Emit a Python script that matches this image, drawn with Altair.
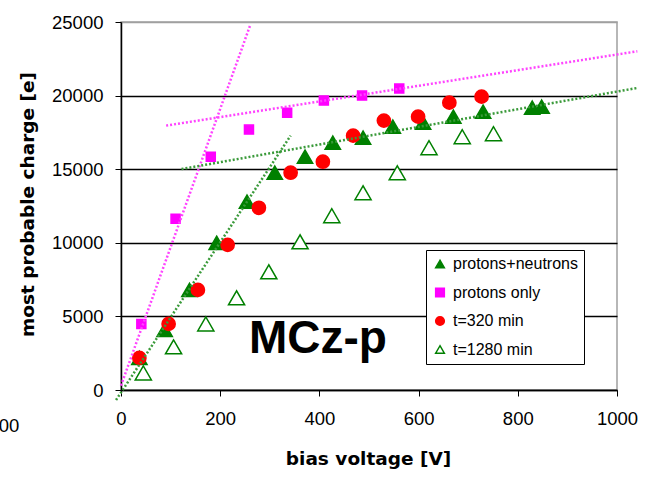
import altair as alt
import pandas as pd

# ---- data ----
series_order = ["protons+neutrons", "protons only", "t=320 min", "t=1280 min"]

pn_v = [37, 88, 138, 193, 254, 310, 371, 427, 488, 548, 609, 670, 730, 829, 848]
pn_q = [2180, 4080, 6800, 10000, 12790, 14760, 15850, 16800, 17140, 17890, 18160, 18570, 18910, 19180, 19250]

po_v = [41, 110, 181, 258, 335, 409, 486, 561]
po_q = [4490, 11630, 15850, 17690, 18840, 19660, 20000, 20480]

t320_v = [37, 96, 155, 215, 278, 342, 407, 468, 530, 599, 662, 727]
t320_q = [2180, 4490, 6800, 9860, 12380, 14760, 15510, 17280, 18300, 18570, 19520, 19930]

t1280_v = [45, 106, 171, 233, 298, 361, 425, 488, 557, 621, 688, 751]
t1280_q = [1160, 2930, 4490, 6260, 8030, 10070, 11840, 13400, 14760, 16460, 17210, 17410]

# trend lines (end points)
mag_steep_v = [0, 261]
mag_steep_q = [300, 24830]
mag_flat_v = [91, 1041]
mag_flat_q = [17960, 23010]
grn_steep_v = [-10, 342]
grn_steep_q = [-680, 17280]
grn_flat_v = [122, 1041]
grn_flat_q = [15010, 20520]

x_ticks = [0, 200, 400, 600, 800, 1000]
y_ticks = [0, 5000, 10000, 15000, 20000, 25000]

ann_x = [258]
ann_y = [2520]
ann_text = ["MCz-p"]

frag_x = [-205]
frag_y = [-2880]
frag_text = ["00"]

# ---- tables ----
series_data = [(pn_v, pn_q), (po_v, po_q), (t320_v, t320_q), (t1280_v, t1280_q)]
series_frames = [
    pd.DataFrame({"series": name, "V": v, "Q": q})
    for name, (v, q) in zip(series_order, series_data)
]

mag_lines = pd.concat([
    pd.DataFrame({"line": "steep", "V": mag_steep_v, "Q": mag_steep_q}),
    pd.DataFrame({"line": "flat", "V": mag_flat_v, "Q": mag_flat_q}),
], ignore_index=True)
grn_lines = pd.concat([
    pd.DataFrame({"line": "steep", "V": grn_steep_v, "Q": grn_steep_q}),
    pd.DataFrame({"line": "flat", "V": grn_flat_v, "Q": grn_flat_q}),
], ignore_index=True)

ann = pd.DataFrame({"V": ann_x, "Q": ann_y, "t": ann_text})
frag = pd.DataFrame({"V": frag_x, "Q": frag_y, "t": frag_text})

LAB_FONT = "Liberation Sans"
TITLE_FONT = "DejaVu Sans"

fill_range = ["#008000", "#ff00ff", "#ff0000", "white"]
stroke_range = ["#008000", "#ff00ff", "#ff0000", "#008000"]
shape_range = ["triangle-up", "square", "circle", "triangle-up"]
marker_sizes = [235, 81, 175, 260]

x_enc = alt.X(
    "V:Q",
    scale=alt.Scale(domain=[0, 1000], nice=False, zero=False),
    axis=alt.Axis(
        values=x_ticks, grid=False, format="d",
        tickSize=6, tickColor="black", domainColor="black", domainWidth=1.5,
        labelFont=LAB_FONT, labelFontSize=18.5, labelColor="black", labelPadding=13,
        labelFlush=False,
        title="bias voltage [V]", titleFont=TITLE_FONT, titleFontWeight="bold",
        titleFontSize=18.5, titleColor="black", titleX=247, titleY=74,
        titleAlign="center", titleBaseline="alphabetic",
    ),
)
y_enc = alt.Y(
    "Q:Q",
    scale=alt.Scale(domain=[0, 25000], nice=False, zero=False),
    axis=alt.Axis(
        values=y_ticks, grid=True, format="d",
        gridColor=alt.condition("datum.value == 25000", alt.value("#a0a0a0"), alt.value("black")),
        gridWidth=1.3, gridOpacity=1,
        tickSize=6, tickColor="black", domainColor="black", domainWidth=1.5,
        labelFont=LAB_FONT, labelFontSize=18.5, labelColor="black", labelPadding=12,
        labelFlush=False,
        title="most probable charge [e]", titleFont=TITLE_FONT, titleFontWeight="bold",
        titleFontSize=18.5, titleColor="black", titleAngle=270,
        titleX=-88, titleY=182, titleAlign="center", titleBaseline="alphabetic",
    ),
)

leg = alt.Legend(title=None)
point_layers = []
for frame, sz in zip(series_frames, marker_sizes):
    point_layers.append(
        alt.Chart(frame).mark_point(filled=True, opacity=1, strokeWidth=1.5, size=sz).encode(
            x=x_enc,
            y=y_enc,
            fill=alt.Fill("series:N", scale=alt.Scale(domain=series_order, range=fill_range), legend=leg),
            stroke=alt.Stroke("series:N", scale=alt.Scale(domain=series_order, range=stroke_range), legend=leg),
            shape=alt.Shape("series:N", scale=alt.Scale(domain=series_order, range=shape_range), legend=leg),
        )
    )

mag = alt.Chart(mag_lines).mark_line(color="#ff44ff", strokeWidth=2.5, strokeDash=[2, 2]).encode(
    x="V:Q", y="Q:Q", detail="line:N"
)
grn = alt.Chart(grn_lines).mark_line(color="#3a9a3a", strokeWidth=2.5, strokeDash=[2, 2]).encode(
    x="V:Q", y="Q:Q", detail="line:N"
)

label = alt.Chart(ann).mark_text(
    align="left", baseline="alphabetic", font=LAB_FONT, fontWeight="bold", fontSize=46, color="black"
).encode(x="V:Q", y="Q:Q", text="t:N")

frag_label = alt.Chart(frag).mark_text(
    align="right", baseline="alphabetic", font=LAB_FONT, fontSize=18.5, color="black"
).encode(x="V:Q", y="Q:Q", text="t:N")

chart = alt.layer(*point_layers, mag, grn, label, frag_label).properties(
    width=496, height=368,
    padding={"left": 121, "top": 22, "right": 28, "bottom": 93},
    autosize=alt.AutoSizeParams(type="none"),
    background="white",
).configure_view(
    stroke="#a0a0a0", strokeWidth=1.5
).configure_legend(
    orient="none", legendX=305, legendY=228, direction="vertical",
    strokeColor="black", fillColor="white", padding=6, rowPadding=12.5,
    labelFont=LAB_FONT, labelFontSize=16, labelColor="black", labelOffset=5,
    symbolSize=75, symbolStrokeWidth=1.5, symbolOpacity=1, offset=0,
)

chart.save("out.html", embed_options={"renderer": "svg", "actions": False})
